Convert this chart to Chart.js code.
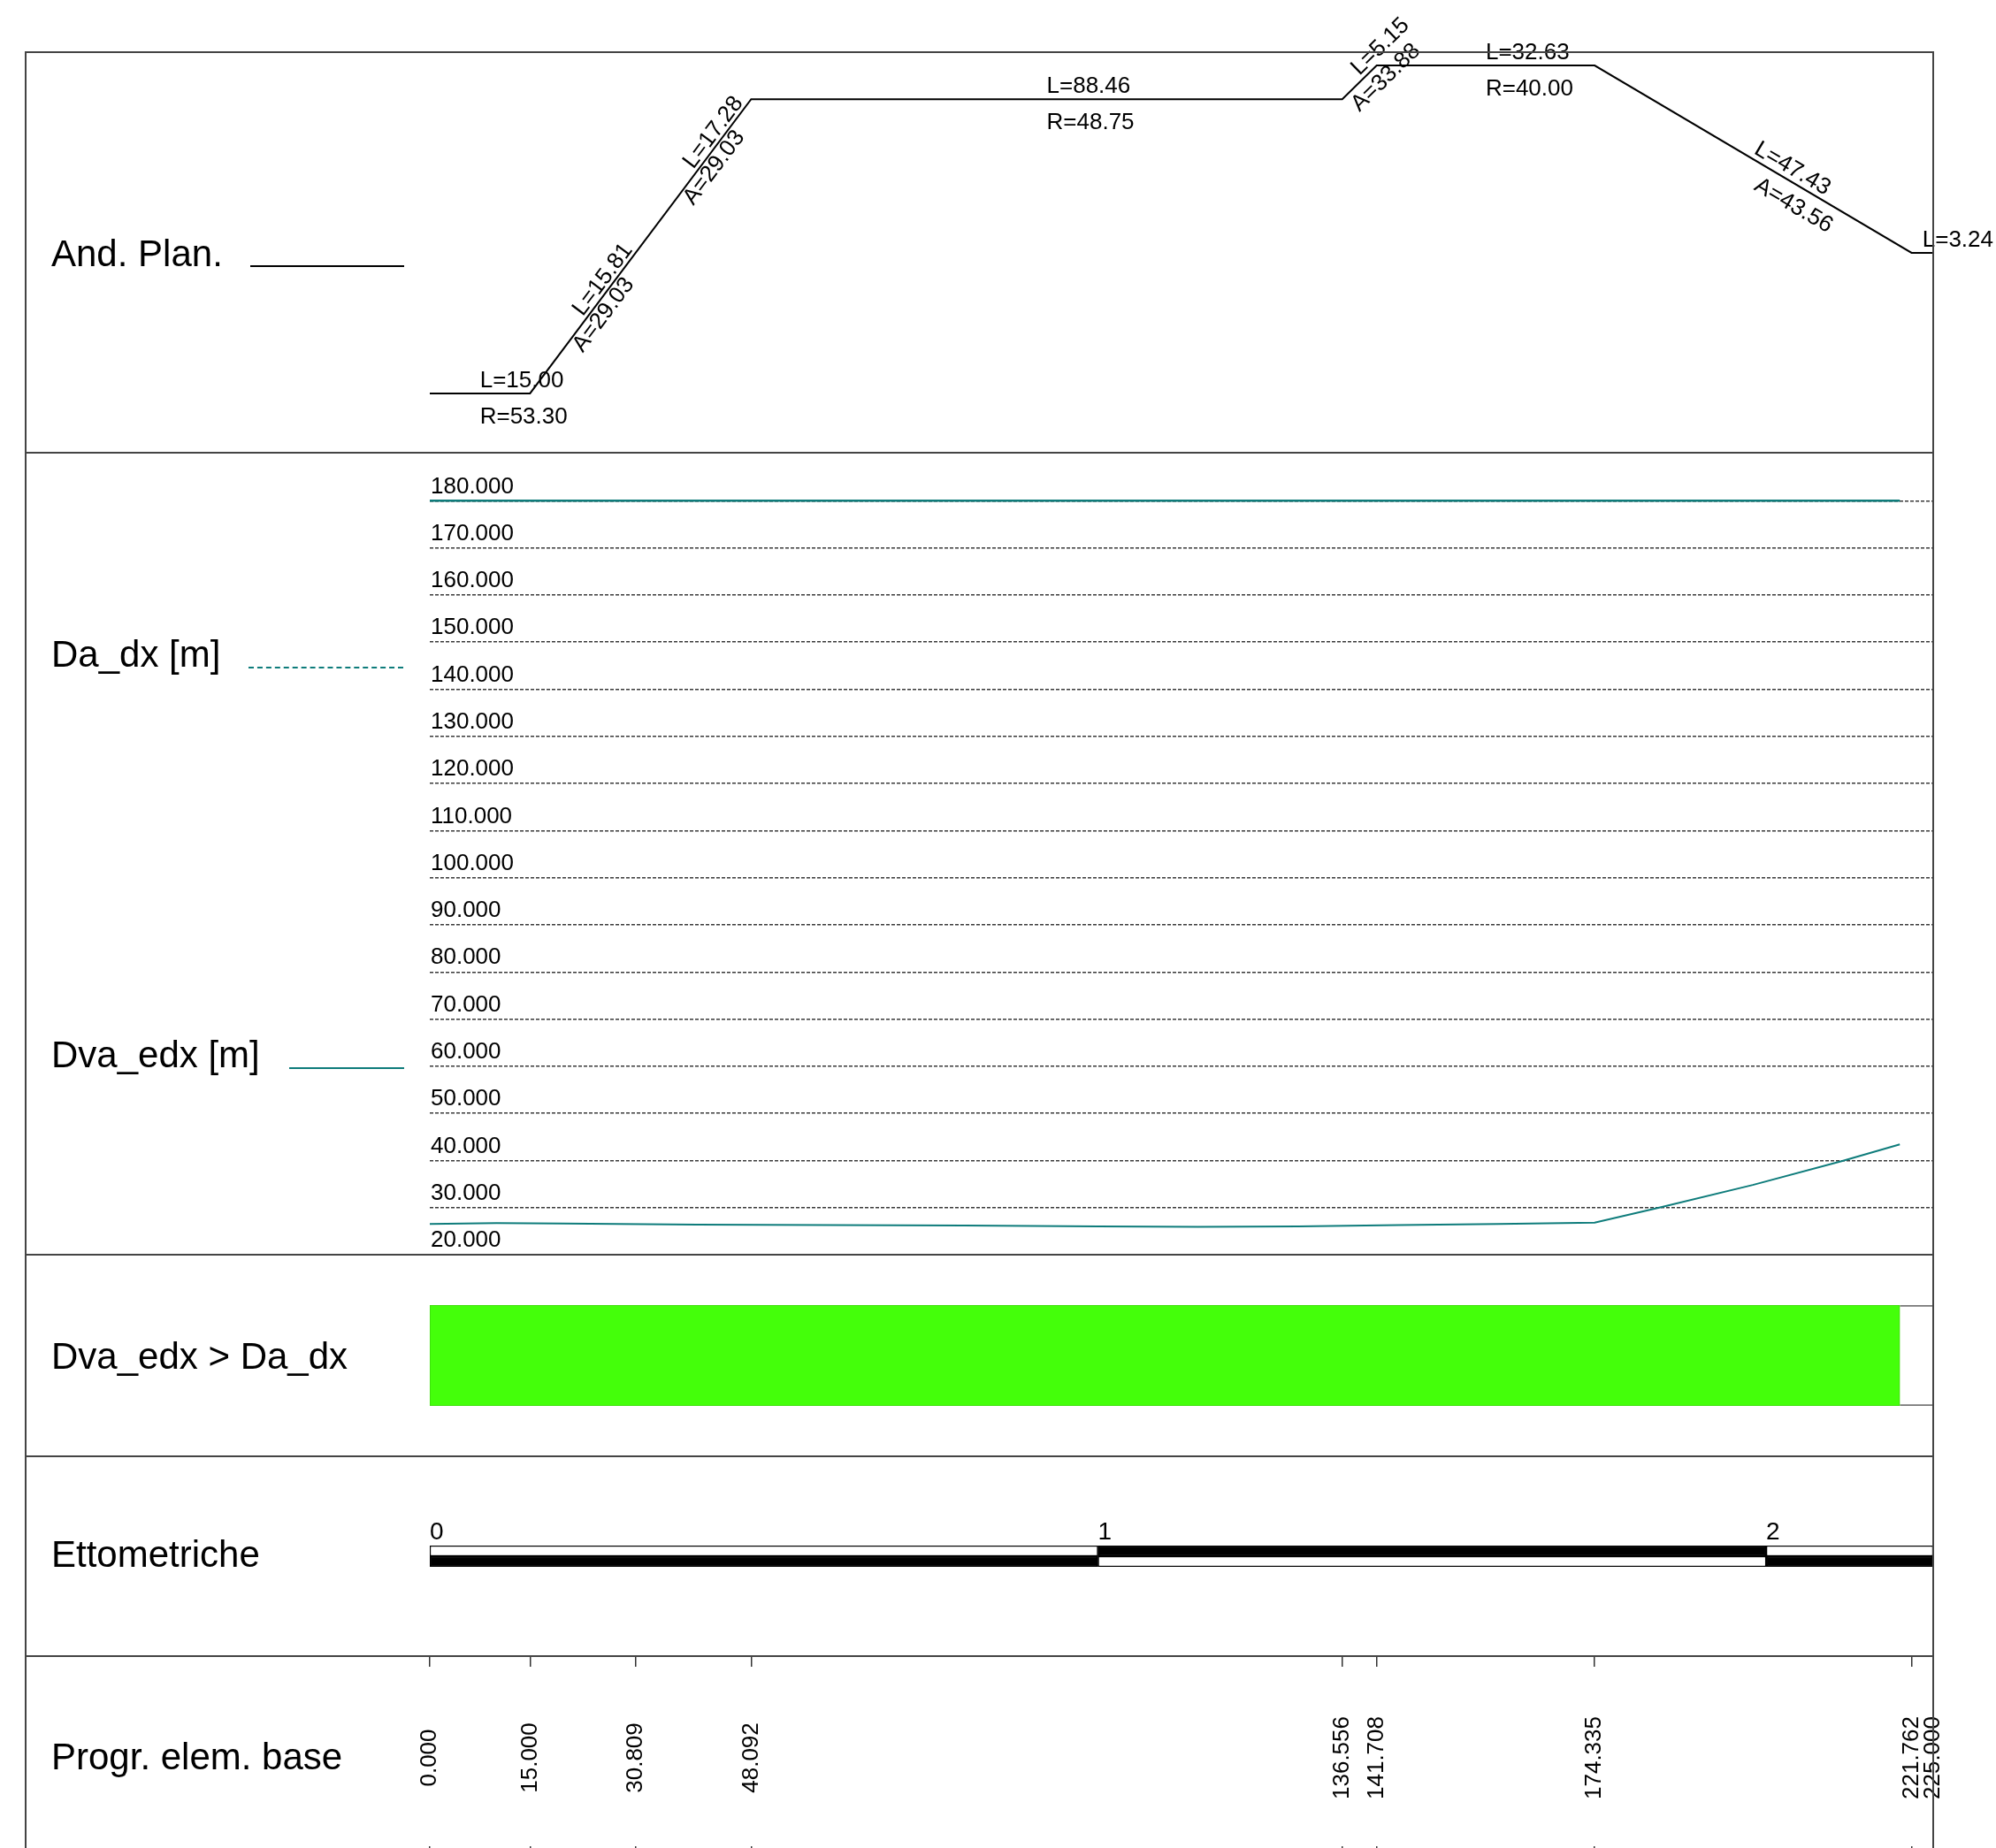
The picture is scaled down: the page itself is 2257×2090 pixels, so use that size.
<!DOCTYPE html>
<html>
<head>
<meta charset="utf-8">
<script src="https://cdn.jsdelivr.net/npm/chart.js@4.4.0/dist/chart.umd.min.js"></script>
<style>
  html, body { margin: 0; padding: 0; background: #fff; }
  #sheet { position: relative; width: 2257px; height: 2090px; overflow: hidden; background: #fff;
           font-family: 'Liberation Sans', Arial, sans-serif; }
  canvas { position: absolute; left: 0; }
  .rule { position: absolute; background: #444; }
  .lbl { position: absolute; left: 58px; font-size: 42px; line-height: 42px; white-space: nowrap; color: #000; }
  .key { position: absolute; height: 0; }
</style>
</head>
<body>
<div id="sheet">
  <canvas id="plan" width="2257" height="560" style="top:0px"></canvas>
  <canvas id="profile" width="2257" height="970" style="top:480px"></canvas>
  <canvas id="check" width="2257" height="228" style="top:1419px"></canvas>
  <canvas id="etto" width="2257" height="226" style="top:1647px"></canvas>
  <canvas id="prog" width="2257" height="217" style="top:1873px"></canvas>

  <!-- cornice e separatori -->
  <div class="rule" style="left:28px; top:58px; width:2159px; height:2px"></div>
  <div class="rule" style="left:28px; top:58px; width:2px; height:2032px"></div>
  <div class="rule" style="left:2185px; top:58px; width:2px; height:2032px"></div>
  <div class="rule" style="left:28px; top:511px; width:2159px; height:2px"></div>
  <div class="rule" style="left:28px; top:1418px; width:2159px; height:2px"></div>
  <div class="rule" style="left:28px; top:1646px; width:2159px; height:2px"></div>
  <div class="rule" style="left:28px; top:1872px; width:2159px; height:2px"></div>

  <!-- etichette delle fasce -->
  <div class="lbl" style="top:266px">And. Plan.</div>
  <div class="lbl" style="top:719px">Da_dx [m]</div>
  <div class="lbl" style="top:1172px">Dva_edx [m]</div>
  <div class="lbl" style="top:1513px">Dva_edx &gt; Da_dx</div>
  <div class="lbl" style="top:1737px">Ettometriche</div>
  <div class="lbl" style="top:1966px">Progr. elem. base</div>

  <div class="key" style="left:283px; top:300px; width:174px; border-top:2px solid #000"></div>
  <div class="key" style="left:281px; top:754px; width:175px; border-top:2px dashed #0e7c7b"></div>
  <div class="key" style="left:327px; top:1207px; width:130px; border-top:2px solid #0e7c7b"></div>
</div>

<script>
// Andamento planimetrico: progressive dei vertici e curvatura (1/R, segno = verso)
const planStations = [0, 15, 30.809, 48.092, 136.556, 141.708, 174.335, 221.762, 225];
const planCurvature = [-0.01876, -0.01876, 0, 0.02051, 0.02051, 0.025, 0.025, 0, 0];
const planLengths = ['L=15.00', 'L=15.81', 'L=17.28', 'L=88.46', 'L=5.15', 'L=32.63', 'L=47.43', 'L=3.24'];
const planParams = ['R=53.30', 'A=29.03', 'A=29.03', 'R=48.75', 'A=33.88', 'R=40.00', 'A=43.56', ''];

// Distanze [m]
const profileTicks = [20, 30, 40, 50, 60, 70, 80, 90, 100, 110, 120, 130, 140, 150, 160, 170, 180];
const daStations = [0, 220];
const daValues = [180, 180];
const dvaStations = [0, 10, 20, 40, 60, 80, 100, 115, 130, 145, 160, 174.335, 184, 198, 211.4, 220];
const dvaValues = [26.5, 26.7, 26.6, 26.4, 26.3, 26.2, 26.0, 25.9, 26.0, 26.3, 26.5, 26.8, 30.0, 34.8, 39.9, 43.4];

// Verifica Dva_edx > Da_dx
const checkOk = [[0, 220]];
const checkNone = [[220, 225]];

// Ettometriche
const ettoBounds = [0, 100, 200, 225];
const ettoTicks = [0, 100, 200];
const ettoLabels = ['0', '1', '2'];

// Progressive elementi base
const progStations = [0, 15, 30.809, 48.092, 136.556, 141.708, 174.335, 221.762, 225];
const progLabels = ['0.000', '15.000', '30.809', '48.092', '136.556', '141.708', '174.335', '221.762', '225.000'];

const FONT = "'Liberation Sans', Arial, sans-serif";
const TEAL = '#0e7c7b';
Chart.defaults.font.family = FONT;
Chart.defaults.color = '#000';

const PAD_L = 486, PAD_R = 71;
const base = {
  responsive: false,
  animation: false,
  plugins: { legend: { display: false }, tooltip: { enabled: false } }
};
const xHidden = { type: 'linear', min: 0, max: 225, display: false };

// etichette L / R / A: ancorate a meta' elemento, spostate in verticale, poi ruotate
const planLabelsPlugin = {
  id: 'planLabels',
  afterDatasetsDraw(chart) {
    const { ctx, scales: { x, y } } = chart;
    ctx.save();
    ctx.font = '26px ' + FONT;
    ctx.fillStyle = '#000';
    ctx.textAlign = 'left';
    ctx.textBaseline = 'alphabetic';
    for (let i = 0; i < planLengths.length; i++) {
      const x1 = x.getPixelForValue(planStations[i]);
      const y1 = y.getPixelForValue(planCurvature[i]);
      const x2 = x.getPixelForValue(planStations[i + 1]);
      const y2 = y.getPixelForValue(planCurvature[i + 1]);
      const ang = Math.atan2(y2 - y1, x2 - x1);
      const mx = (x1 + x2) / 2, my = (y1 + y2) / 2;
      ctx.save();
      ctx.translate(mx, my - 7);
      ctx.rotate(ang);
      ctx.fillText(planLengths[i], 0, 0);
      ctx.restore();
      if (planParams[i]) {
        ctx.save();
        ctx.translate(mx, my + 34);
        ctx.rotate(ang);
        ctx.fillText(planParams[i], 0, 0);
        ctx.restore();
      }
    }
    ctx.restore();
  }
};

new Chart(document.getElementById('plan'), {
  type: 'line',
  data: {
    datasets: [{
      data: planStations.map((s, i) => ({ x: s, y: planCurvature[i] })),
      borderColor: '#000', borderWidth: 2, pointRadius: 0, tension: 0
    }]
  },
  options: {
    ...base,
    layout: { padding: { top: 59, bottom: 48, left: PAD_L, right: PAD_R } },
    scales: { x: xHidden, y: { min: -0.02667, max: 0.02678, display: false } }
  },
  plugins: [planLabelsPlugin]
});

new Chart(document.getElementById('profile'), {
  type: 'line',
  data: {
    datasets: [
      { label: 'Da_dx', data: daStations.map((s, i) => ({ x: s, y: daValues[i] })),
        borderColor: TEAL, borderWidth: 2.5, pointRadius: 0 },
      { label: 'Dva_edx', data: dvaStations.map((s, i) => ({ x: s, y: dvaValues[i] })),
        borderColor: TEAL, borderWidth: 2, pointRadius: 0 }
    ]
  },
  options: {
    ...base,
    layout: { padding: { top: 32, bottom: 31, left: PAD_L, right: PAD_R } },
    scales: {
      x: xHidden,
      y: {
        min: 20, max: 190.2, position: 'left',
        afterBuildTicks: s => { s.ticks = profileTicks.map(v => ({ value: v })); },
        afterFit: s => { s.width = 0; },
        grid: { color: '#3a3a3a', lineWidth: 1.5, drawTicks: false },
        border: { display: false, dash: [4, 2] },
        ticks: { mirror: true, padding: 1, labelOffset: -16, color: '#000', font: { size: 26 },
                 callback: v => Number(v).toFixed(3) }
      }
    }
  }
});

new Chart(document.getElementById('check'), {
  type: 'bar',
  data: {
    labels: ['verifica'],
    datasets: [
      { data: checkOk, backgroundColor: '#44ff0a', borderColor: '#3cd40c', borderWidth: 1,
        borderSkipped: false, grouped: false, barPercentage: 1, categoryPercentage: 1 },
      { data: checkNone, backgroundColor: '#fff', borderColor: '#777',
        borderWidth: { top: 2, bottom: 2, left: 0, right: 0 },
        borderSkipped: false, grouped: false, barPercentage: 1, categoryPercentage: 1 }
    ]
  },
  options: {
    ...base,
    indexAxis: 'y',
    layout: { padding: { top: 57, bottom: 57, left: PAD_L, right: PAD_R } },
    scales: { x: xHidden, y: { display: false } }
  }
});

const ettoSets = [];
for (let i = 0; i < ettoBounds.length - 1; i++) {
  const seg = [ettoBounds[i], ettoBounds[i + 1]];
  ettoSets.push({
    data: [seg, seg],
    backgroundColor: i % 2 === 0 ? ['#fff', '#000'] : ['#000', '#fff'],
    borderColor: '#000', borderWidth: 1.5, borderSkipped: false,
    grouped: false, barPercentage: 1, categoryPercentage: 1
  });
}
new Chart(document.getElementById('etto'), {
  type: 'bar',
  data: { labels: ['sopra', 'sotto'], datasets: ettoSets },
  options: {
    ...base,
    indexAxis: 'y',
    layout: { padding: { top: 41, bottom: 101, left: PAD_L, right: PAD_R } },
    scales: {
      x: {
        type: 'linear', min: 0, max: 225, position: 'top',
        afterBuildTicks: s => { s.ticks = ettoTicks.map(v => ({ value: v })); },
        afterFit: s => { s.height = 60; },
        grid: { display: false }, border: { display: false },
        ticks: { align: 'start', padding: -10, labelOffset: 0, autoSkip: false, maxRotation: 0,
                 font: { size: 28 }, color: '#000', callback: (v, i) => ettoLabels[i] }
      },
      y: { display: false }
    }
  }
});

// progressive ruotate, centrate nella fascia
const progLabelsPlugin = {
  id: 'progLabels',
  afterDraw(chart) {
    const { ctx, scales: { x }, chartArea } = chart;
    const cy = 115;
    ctx.save();
    ctx.font = '26px ' + FONT;
    ctx.fillStyle = '#000';
    ctx.textAlign = 'center';
    ctx.textBaseline = 'middle';
    progStations.forEach((s, i) => {
      ctx.save();
      ctx.translate(x.getPixelForValue(s), chartArea.top + cy);
      ctx.rotate(-Math.PI / 2);
      ctx.fillText(progLabels[i], 0, 0);
      ctx.restore();
    });
    ctx.restore();
  }
};

new Chart(document.getElementById('prog'), {
  type: 'line',
  data: { datasets: [] },
  options: {
    ...base,
    layout: { padding: { top: 0, bottom: 0, left: PAD_L, right: PAD_R } },
    scales: {
      x: {
        type: 'linear', min: 0, max: 225,
        afterBuildTicks: s => { s.ticks = progStations.map(v => ({ value: v })); },
        afterFit: s => { s.height = 0; },
        grid: { color: '#333', lineWidth: 1.5, drawTicks: false },
        border: { display: false, dash: [12, 203, 40] },
        ticks: { display: false }
      },
      y: { display: false }
    }
  },
  plugins: [progLabelsPlugin]
});
</script>
</body>
</html>
